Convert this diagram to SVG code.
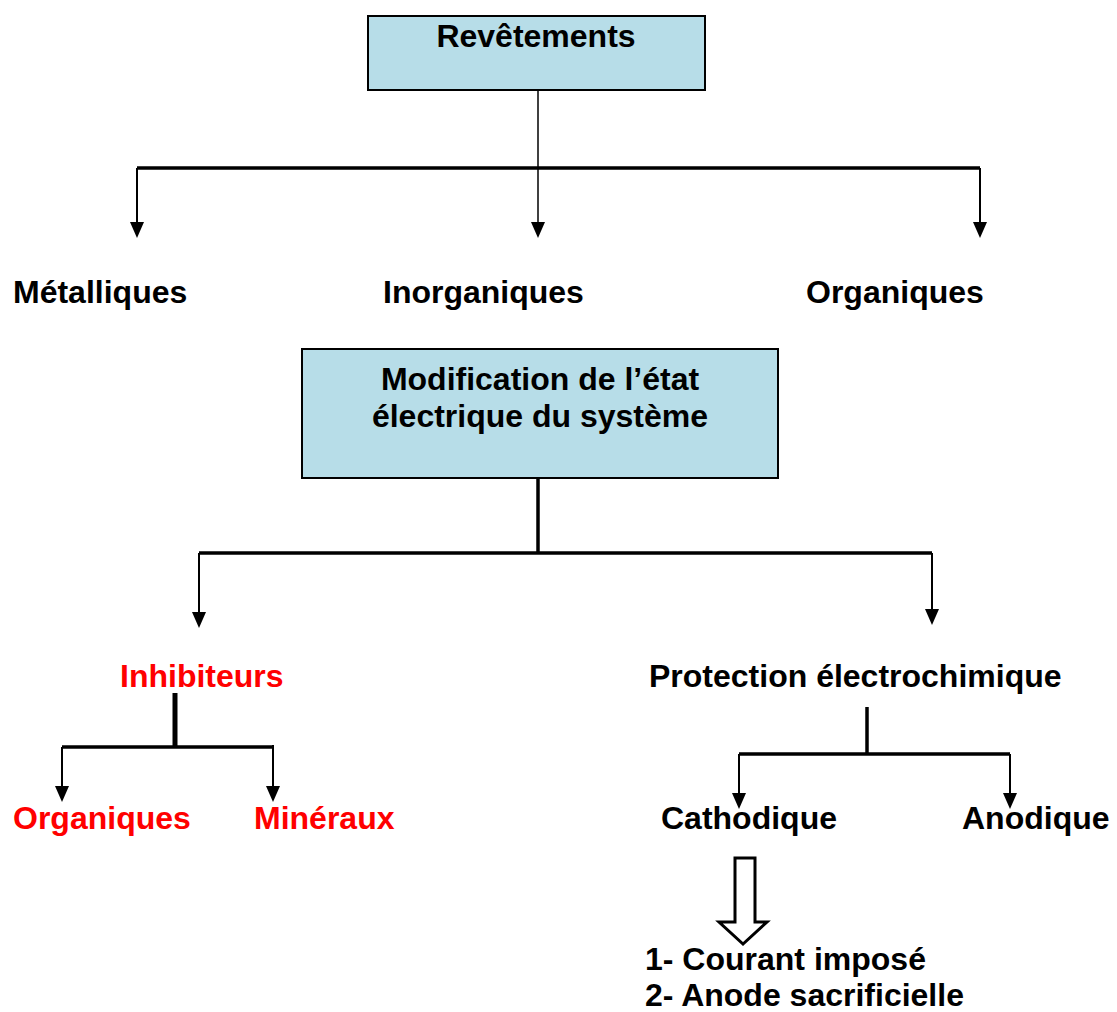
<svg xmlns="http://www.w3.org/2000/svg" width="1117" height="1012" viewBox="0 0 1117 1012">
<style>
text{font-family:"Liberation Sans",Arial,sans-serif;font-weight:bold;font-size:32px;fill:#000}
.red{fill:#ff0000}
.box{fill:#b7dde8;stroke:#000;stroke-width:2}
.thin{stroke:#000;stroke-width:1.5;fill:none}
.mid{stroke:#000;stroke-width:2;fill:none}
.thick{stroke:#000;stroke-width:3.5;fill:none}
.xthick{stroke:#000;stroke-width:5;fill:none}
</style>
<defs>
<marker id="ad" markerUnits="userSpaceOnUse" viewBox="0 0 16 14" refX="8" refY="7" markerWidth="16" markerHeight="14" orient="auto">
<path d="M0,0 L16,7 L0,14 Z" fill="#000"/>
</marker>
</defs>
<g id="connectors">
<line class="thin" x1="538" y1="90" x2="538" y2="168"/>
<line class="thick" x1="137" y1="168" x2="980" y2="168"/>
<line class="mid" x1="137" y1="168" x2="137" y2="230" marker-end="url(#ad)"/>
<line class="thin" x1="538" y1="168" x2="538" y2="230" marker-end="url(#ad)"/>
<line class="mid" x1="980" y1="168" x2="980" y2="230" marker-end="url(#ad)"/>
<line class="thick" x1="538" y1="478" x2="538" y2="553"/>
<line class="thick" x1="199" y1="553" x2="932" y2="553"/>
<line class="mid" x1="199" y1="553" x2="199" y2="620" marker-end="url(#ad)"/>
<line class="mid" x1="932" y1="553" x2="932" y2="617" marker-end="url(#ad)"/>
<line class="xthick" x1="175" y1="693" x2="175" y2="746"/>
<line class="thick" x1="62" y1="747" x2="273" y2="747"/>
<line class="mid" x1="62" y1="747" x2="62" y2="794" marker-end="url(#ad)"/>
<line class="mid" x1="273" y1="745" x2="273" y2="794" marker-end="url(#ad)"/>
<line class="thick" x1="867" y1="707" x2="867" y2="754"/>
<line class="thick" x1="739" y1="754" x2="1010" y2="754"/>
<line class="mid" x1="739" y1="754" x2="739" y2="801" marker-end="url(#ad)"/>
<line class="mid" x1="1010" y1="754" x2="1010" y2="801" marker-end="url(#ad)"/>
<path d="M735,858 L755,858 L755,922 L767,922 L743,944 L719,922 L735,922 Z" fill="#fff" stroke="#000" stroke-width="3" stroke-linejoin="miter"/>
</g>
<g id="revetements">
<rect class="box" x="368" y="16" width="337" height="74"/>
<text x="536" y="47" text-anchor="middle">Revêtements</text>
</g>
<g id="metalliques"><text x="13" y="303">Métalliques</text></g>
<g id="inorganiques"><text x="383" y="303">Inorganiques</text></g>
<g id="organiques1"><text x="806" y="303">Organiques</text></g>
<g id="modification">
<rect class="box" x="302" y="349" width="476" height="129"/>
<text x="540" y="390" text-anchor="middle">Modification de l’état</text>
<text x="540" y="427" text-anchor="middle">électrique du système</text>
</g>
<g id="inhibiteurs"><text class="red" x="120" y="687">Inhibiteurs</text></g>
<g id="protection"><text x="649" y="687">Protection électrochimique</text></g>
<g id="organiques2"><text class="red" x="13" y="829">Organiques</text></g>
<g id="mineraux"><text class="red" x="254" y="829">Minéraux</text></g>
<g id="cathodique"><text x="661" y="829">Cathodique</text></g>
<g id="anodique"><text x="962" y="829">Anodique</text></g>
<g id="methodes">
<text x="645" y="970">1- Courant imposé</text>
<text x="645" y="1006">2- Anode sacrificielle</text>
</g>
</svg>
